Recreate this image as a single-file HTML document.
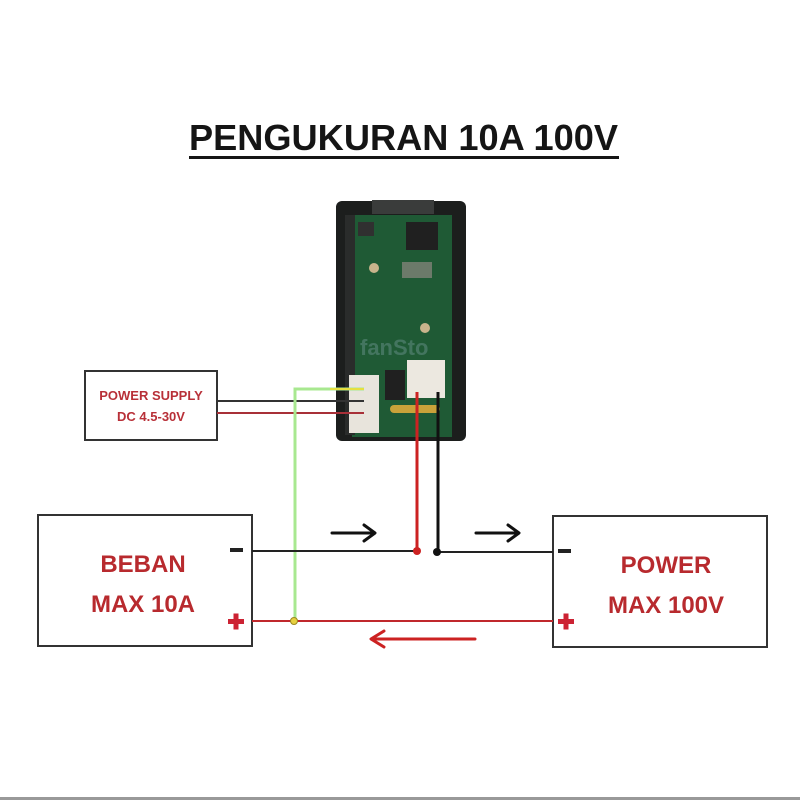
<!DOCTYPE html>
<html><head><meta charset="utf-8"><style>
html,body{margin:0;padding:0;background:#fff;}
svg{display:block;}
text{font-family:"Liberation Sans",sans-serif;font-weight:bold;}
</style></head><body>
<svg width="800" height="800" viewBox="0 0 800 800" xmlns="http://www.w3.org/2000/svg">
<rect width="800" height="800" fill="#fff"/>
<text x="189" y="150" font-size="36" fill="#151515" textLength="429" lengthAdjust="spacingAndGlyphs">PENGUKURAN 10A 100V</text>
<rect x="189" y="156" width="430" height="3" fill="#151515"/>

<!-- module -->
<rect x="336" y="201" width="130" height="240" rx="6" fill="#1c1e1d"/>
<rect x="372" y="200" width="62" height="14" fill="#3a3c3b"/>
<rect x="352" y="215" width="100" height="222" fill="#1f5a35"/>
<rect x="345" y="215" width="10" height="220" fill="#2a2c2b"/>
<rect x="406" y="222" width="32" height="28" fill="#202020"/>
<rect x="402" y="262" width="30" height="16" fill="#6c7a6a"/>
<rect x="358" y="222" width="16" height="14" fill="#303030"/>
<circle cx="374" cy="268" r="5" fill="#c8b48c"/>
<circle cx="425" cy="328" r="5" fill="#c8b48c"/>
<text x="360" y="355" font-size="22" fill="#b0c8dc" opacity="0.25" font-weight="normal">fanSto</text>
<rect x="349" y="375" width="30" height="58" fill="#e8e4dc"/>
<rect x="385" y="370" width="20" height="30" fill="#202020"/>
<rect x="407" y="360" width="38" height="38" fill="#ece8e0"/>
<rect x="390" y="405" width="50" height="8" rx="4" fill="#c9a23a"/>

<!-- power supply box -->
<rect x="85" y="371" width="132" height="69" fill="#fff" stroke="#333" stroke-width="2"/>
<text x="151" y="400" font-size="13" fill="#b83038" text-anchor="middle">POWER SUPPLY</text>
<text x="151" y="421" font-size="13" fill="#b83038" text-anchor="middle">DC 4.5-30V</text>
<line x1="217" y1="401" x2="364" y2="401" stroke="#333" stroke-width="2"/>
<line x1="217" y1="413" x2="364" y2="413" stroke="#a83038" stroke-width="2"/>
<polyline points="364,389 295,389 295,621" fill="none" stroke="#a8e890" stroke-width="3"/>
<line x1="330" y1="389" x2="364" y2="389" stroke="#e6e040" stroke-width="2"/>

<!-- module output wires -->
<line x1="417" y1="392" x2="417" y2="551" stroke="#cc2222" stroke-width="3"/>
<line x1="438" y1="392" x2="438" y2="551" stroke="#111" stroke-width="3"/>

<!-- boxes -->
<rect x="38" y="515" width="214" height="131" fill="#fff" stroke="#333" stroke-width="2"/>
<text x="143" y="572" font-size="24" fill="#b82a2e" text-anchor="middle">BEBAN</text>
<text x="143" y="612" font-size="24" fill="#b82a2e" text-anchor="middle">MAX 10A</text>
<rect x="553" y="516" width="214" height="131" fill="#fff" stroke="#333" stroke-width="2"/>
<text x="666" y="573" font-size="24" fill="#b82a2e" text-anchor="middle">POWER</text>
<text x="666" y="613" font-size="24" fill="#b82a2e" text-anchor="middle">MAX 100V</text>

<!-- minus/plus signs -->
<rect x="230" y="548" width="13" height="4" fill="#222"/>
<rect x="558" y="549" width="13" height="4" fill="#222"/>
<rect x="228" y="619" width="16" height="5" fill="#cc2233"/><rect x="233.5" y="613.5" width="5" height="16" fill="#cc2233"/>
<rect x="558" y="619" width="16" height="5" fill="#cc2233"/><rect x="563.5" y="613.5" width="5" height="16" fill="#cc2233"/>

<!-- connections -->
<line x1="252" y1="551" x2="417" y2="551" stroke="#222" stroke-width="2"/>
<line x1="437" y1="552" x2="553" y2="552" stroke="#222" stroke-width="2"/>
<circle cx="417" cy="551" r="4" fill="#cc2222"/>
<circle cx="437" cy="552" r="4" fill="#111"/>
<line x1="252" y1="621" x2="553" y2="621" stroke="#c0282c" stroke-width="2"/>
<circle cx="294" cy="621" r="3.5" fill="#e6d040" stroke="#9a8a20" stroke-width="1"/>

<!-- arrows -->
<g fill="none" stroke-linecap="round" stroke-linejoin="round">
<path d="M332 533 H374 M364 525 L375 533 L364 541" stroke="#111" stroke-width="3"/>
<path d="M476 533 H518 M508 525 L519 533 L508 541" stroke="#111" stroke-width="3"/>
<path d="M475 639 H372 M384 631 L371 639 L384 647" stroke="#cc2222" stroke-width="3"/>
</g>
<rect x="0" y="797" width="800" height="3" fill="#999"/>
</svg>
</body></html>
